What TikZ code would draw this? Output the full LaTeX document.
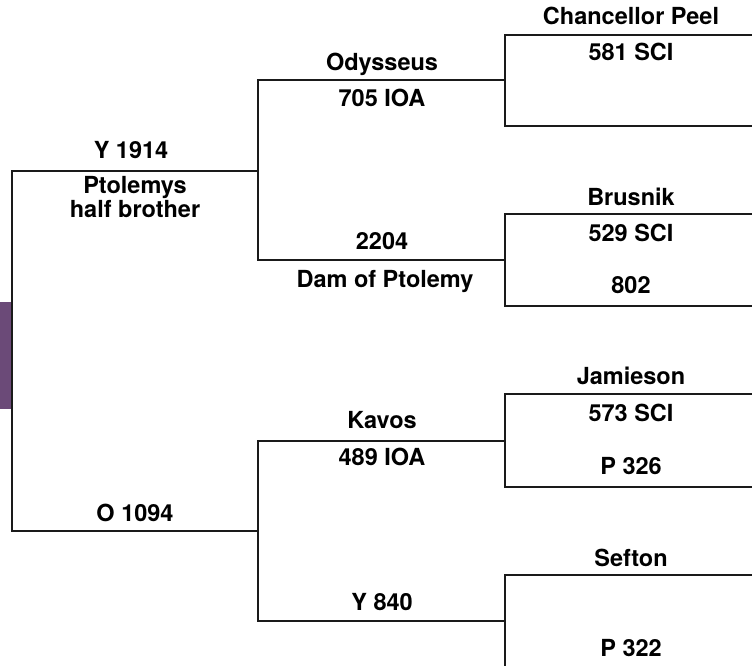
\documentclass[tikz,border=0pt]{standalone}
\usepackage{fontspec}
\setmainfont{TeX Gyre Heros}
\definecolor{linec}{HTML}{1A1A1A}
\definecolor{purp}{HTML}{6B4A78}
\tikzset{
  lbl/.style={anchor=base, inner sep=0pt, font=\bfseries\fontsize{23.5}{21}\selectfont, text=black, align=center},
  tree/.style={draw=linec, line width=1.4pt, line join=miter}
}
\begin{document}
\begin{tikzpicture}[x=1pt,y=-1pt]
\useasboundingbox (0,0) rectangle (752,666);
\fill[purp] (0,302) rectangle (12,409);
% junction coordinates
\coordinate (a1) at (12,171);
\coordinate (a2) at (12,531);
\coordinate (b1t) at (258,80);
\coordinate (b1b) at (258,260);
\coordinate (b2t) at (258,441);
\coordinate (b2b) at (258,621);
\coordinate (c1t) at (505,35);   \coordinate (c1b) at (505,126);
\coordinate (c2t) at (505,214);  \coordinate (c2b) at (505,306);
\coordinate (c3t) at (505,394);  \coordinate (c3b) at (505,487);
\coordinate (c4t) at (505,575);  \coordinate (c4b) at (505,666);
% level 1
\draw[tree] (258,171) -- (a1) -- (a2) -- (258,531);
% level 2
\draw[tree] (505,80) -- (b1t) -- (b1b) -- (505,260);
\draw[tree] (505,441) -- (b2t) -- (b2b) -- (505,621);
% level 3
\draw[tree] (752,35) -- (c1t) -- (c1b) -- (752,126);
\draw[tree] (752,214) -- (c2t) -- (c2b) -- (752,306);
\draw[tree] (752,394) -- (c3t) -- (c3b) -- (752,487);
\draw[tree] (752,575) -- (c4t) -- (c4b);
% labels level 1
\node[lbl] (y1914) at (131,158) {Y 1914};
\node[lbl] (ptol) at (135,217) {Ptolemys\\half brother};
\node[lbl] (o1094) at (135,521) {O 1094};
% labels level 2
\node[lbl] (odys) at (382,71) {Odysseus};
\node[lbl] (ioa705) at (382,107) {705 IOA};
\node[lbl] (n2204) at (382,249) {2204};
\node[lbl] (dam) at (385,287) {Dam of Ptolemy};
\node[lbl] (kavos) at (382,428) {Kavos};
\node[lbl] (ioa489) at (382,465) {489 IOA};
\node[lbl] (y840) at (382,610) {Y 840};
% labels level 3
\node[lbl] (chan) at (631,25) {Chancellor Peel};
\node[lbl] (sci581) at (631,61) {581 SCI};
\node[lbl] (brus) at (631,205) {Brusnik};
\node[lbl] (sci529) at (631,241) {529 SCI};
\node[lbl] (n802) at (631,293) {802};
\node[lbl] (jam) at (631,384) {Jamieson};
\node[lbl] (sci573) at (631,421) {573 SCI};
\node[lbl] (p326) at (631,474) {P 326};
\node[lbl] (sef) at (631,566) {Sefton};
\node[lbl] (p322) at (631,656) {P 322};
\end{tikzpicture}
\end{document}
